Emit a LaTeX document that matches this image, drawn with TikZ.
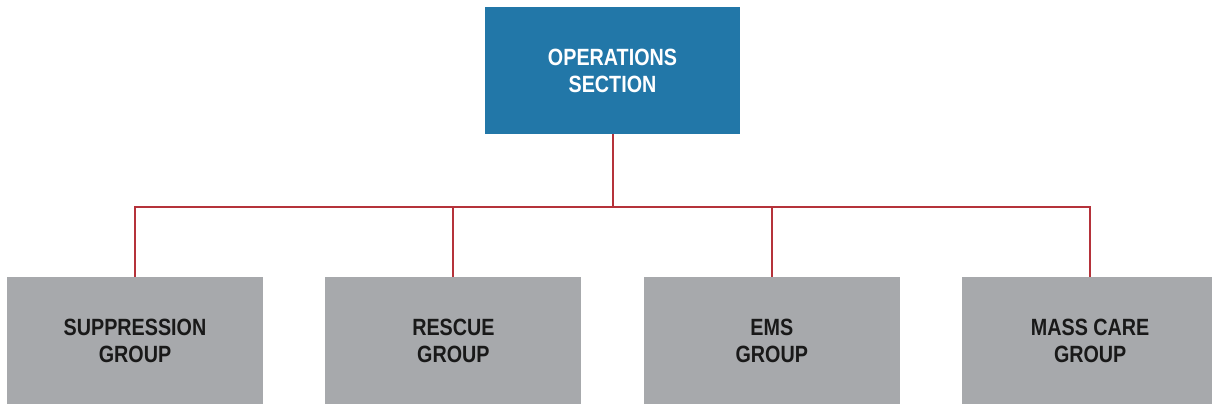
\documentclass[tikz,border=0pt]{standalone}
\usepackage{fontspec}
\usepackage{tikz}
\usetikzlibrary{positioning}
\newfontfamily\boxfont[FakeStretch=0.84]{Liberation Sans}
\definecolor{secblue}{HTML}{2277A8}
\definecolor{grpgray}{HTML}{A7A9AC}
\definecolor{linkred}{HTML}{B5323A}

\begin{document}
\begin{tikzpicture}[x=1pt, y=-1pt, node distance=62pt,
    section/.style={rectangle, fill=secblue, text=white, minimum width=255pt, minimum height=127pt,
        align=center, font=\boxfont\bfseries\fontsize{23.5}{27}\selectfont},
    group/.style={rectangle, fill=grpgray, text=black!90, minimum width=256pt, minimum height=127pt,
        align=center, font=\boxfont\bfseries\fontsize{23.5}{27}\selectfont},
    wire/.style={draw=linkred, line width=2pt}]
      \useasboundingbox (0,0) rectangle (1212,404);
      \clip (0,0) rectangle (1212,404);
      \node[section] (OPS) at (612.5,70.5) {OPERATIONS\\SECTION};
      \node[group] (SUP) at (135,340.5) {SUPPRESSION\\GROUP};
      \node[group, right=of SUP] (RES) {RESCUE\\GROUP};
      \node[group, right=of RES] (EMS) {EMS\\GROUP};
      \node[group, right=of EMS] (MCG) {MASS CARE\\GROUP};
      \coordinate (BUS) at (612.5,207);

        \draw[wire] (OPS) -- (BUS);
        \draw[wire] (BUS) -| (SUP);
        \draw[wire] (BUS) -| (RES);
        \draw[wire] (BUS) -| (EMS);
        \draw[wire] (BUS) -| (MCG);
        \end{tikzpicture}
\end{document}
